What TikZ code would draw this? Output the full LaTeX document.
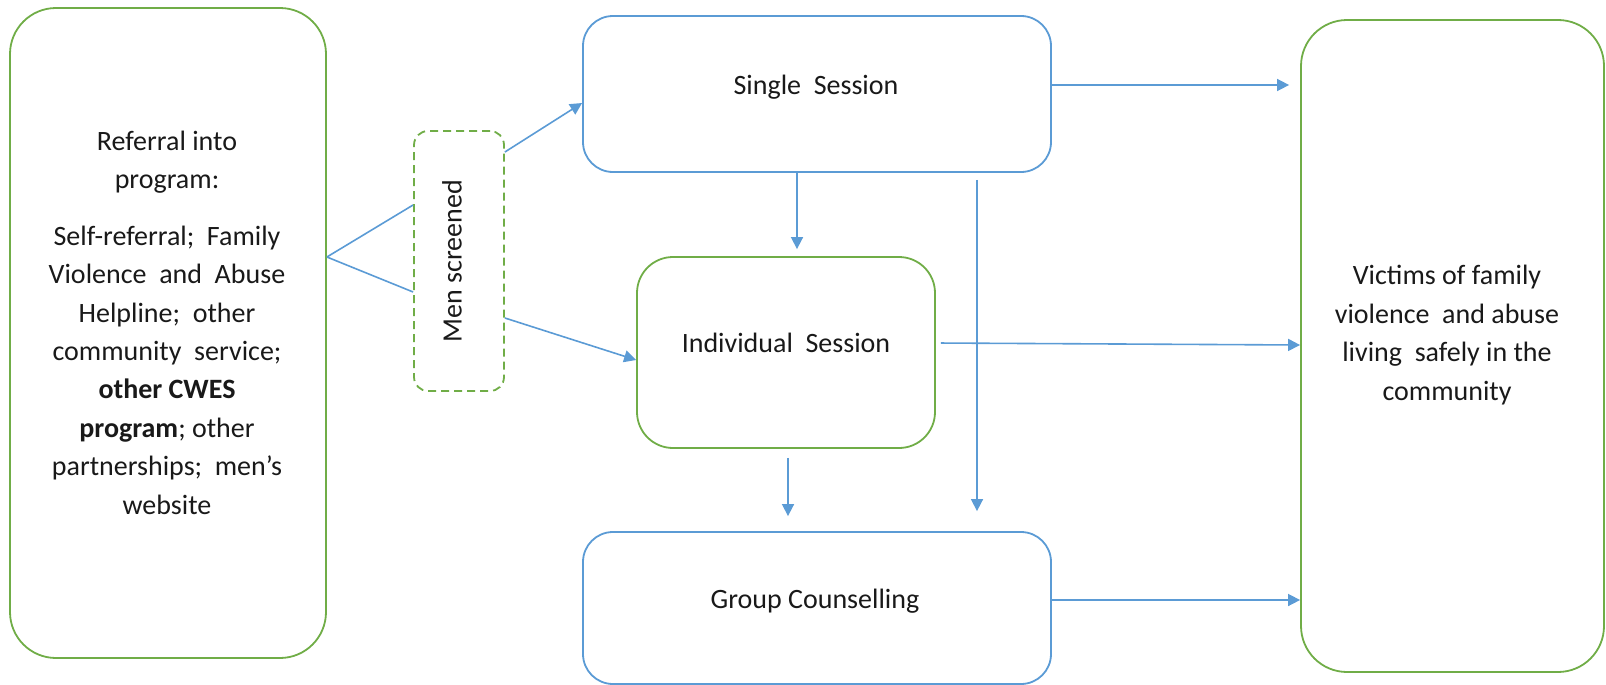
\documentclass[tikz,border=0pt]{standalone}
\usepackage{fontspec}
\setmainfont{Carlito}
\usetikzlibrary{arrows.meta}
\definecolor{boxgreen}{HTML}{70AD47}
\definecolor{boxblue}{HTML}{5B9BD5}
\tikzset{
  x=0.5pt, y=-0.5pt,
  greenbox/.style={draw=boxgreen, line width=0.9pt, rectangle, inner sep=0pt},
  bluebox/.style={draw=boxblue, line width=0.9pt, rectangle, inner sep=0pt},
  screenbox/.style={draw=boxgreen, line width=0.9pt, dash pattern=on 4pt off 2.5pt, rectangle, inner sep=0pt, rounded corners=7pt},
  label text/.style={font=\fontsize{14}{19.2}\selectfont, text=black!90, align=center, inner sep=0pt},
  link/.style={draw=boxblue, line width=0.8pt},
  arr/.style={link, -{Triangle[length=6pt,width=6pt]}},
}
\begin{document}
\begin{tikzpicture}
\useasboundingbox (0,0) rectangle (1606,685);

% boxes
\node[greenbox, rounded corners=23pt, minimum width=158pt, minimum height=325pt] (referral) at (168,333) {};
\node[screenbox, minimum width=45pt, minimum height=130pt] (screen) at (459,261) {};
\node[bluebox, rounded corners=15pt, minimum width=234pt, minimum height=78pt] (single) at (817,94) {};
\node[greenbox, rounded corners=18pt, minimum width=149pt, minimum height=95.5pt] (indiv) at (786,352.5) {};
\node[bluebox, rounded corners=15pt, minimum width=234pt, minimum height=76pt] (group) at (817,608) {};
\node[greenbox, rounded corners=23pt, minimum width=151.5pt, minimum height=326pt] (outcome) at (1452.5,346) {};

% texts
\node[label text] (referralHead) at (167,162) {Referral into\\program:};
\node[label text] (referralBody) at (167,370) {Self-referral;\ \ Family\\Violence\ \ and\ \ Abuse\\Helpline;\ \ other\\community\ \ service;\\\textbf{other CWES}\\\textbf{program}; other\\partnerships;\ \ men’s\\website};
\node[label text, rotate=90] (screenText) at (452,261) {Men screened};
\node[label text] (singleText) at (816,87) {Single\ \ Session};
\node[label text] (indivText) at (786,343) {Individual\ \ Session};
\node[label text] (groupText) at (815,601) {Group Counselling};
\node[label text] (outcomeText) at (1447,335) {Victims of family\\violence\ \ and abuse\\living\ \ safely in the\\community};

% connectors
\coordinate (fork) at (referral.east |- 0,257);
\draw[link] (fork) -- (screen.west |- 0,205);
\draw[link] (fork) -- (screen.west |- 0,292);
\draw[arr] (screen.east |- 0,152) -- (single.west |- 0,103);
\draw[arr] (screen.east |- 0,318) -- (indiv.west |- 0,360);

\draw[arr, shorten >=3.5pt] (single.south -| 797,0) -- (indiv.north -| 797,0);
\draw[arr, shorten <=3.5pt, shorten >=10pt] (single.south -| 977,0) -- (group.north -| 977,0);
\draw[arr, shorten <=4.5pt, shorten >=7.5pt] (indiv.south -| 788,0) -- (group.north -| 788,0);

\draw[arr, shorten >=5.5pt] (single.east |- 0,85) -- (outcome.west |- 0,85);
\draw[arr, shorten <=2.5pt] (indiv.east |- 0,343) -- (outcome.west |- 0,345);
\draw[arr] (group.east |- 0,600) -- (outcome.west |- 0,600);
\end{tikzpicture}
\end{document}
